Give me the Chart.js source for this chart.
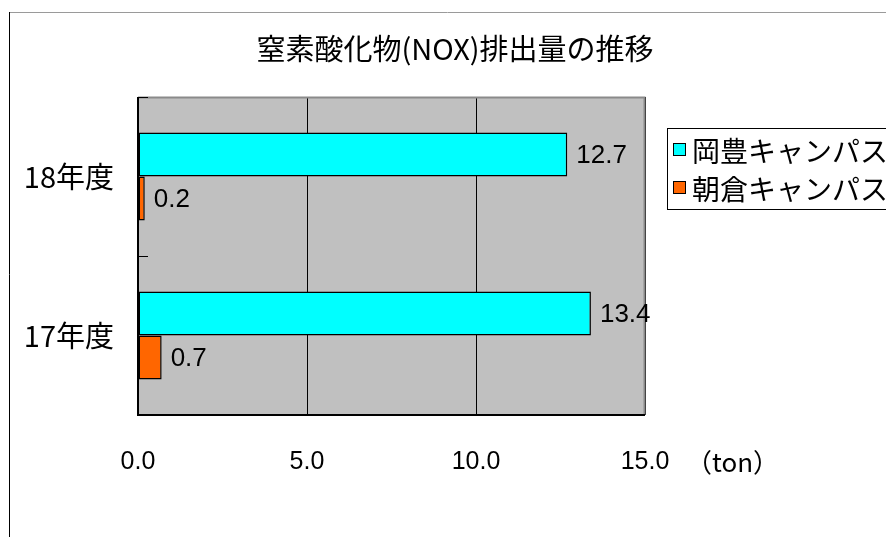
<!DOCTYPE html>
<html>
<head>
<meta charset="utf-8">
<title>窒素酸化物(NOX)排出量の推移</title>
<script src="https://cdn.jsdelivr.net/npm/chart.js@4/dist/chart.umd.min.js"></script>
<style>
  html, body { margin: 0; padding: 0; background: #fff; }
  #wrap { width: 886px; height: 537px; }
</style>
</head>
<body>
<div id="wrap"><canvas id="nox"></canvas></div>
<script>
// ---------------------------
// Data
// ---------------------------
const categories = ['18年度', '17年度'];
const seriesNames = ['岡豊キャンパス', '朝倉キャンパス'];
const okoValues = [12.7, 13.4];
const asakuraValues = [0.2, 0.7];
const xTicks = [0, 5, 10, 15];
const titleText = '窒素酸化物(NOX)排出量の推移';
const unitText = '（ton）';

const JP = '"Noto Sans CJK JP", "Noto Sans", sans-serif';
const NUM = '"Liberation Sans", Arial, sans-serif';

// frame, labels, legend and title drawn around the plot
const decorations = {
    id: 'decorations',
    beforeDraw(chart) {
        const { ctx, chartArea: a } = chart;
        ctx.save();
        ctx.fillStyle = '#fff';
        ctx.fillRect(0, 0, chart.width, chart.height);

        // outer chart border
        ctx.strokeStyle = '#9a9a9a';
        ctx.lineWidth = 1;
        ctx.beginPath();
        ctx.moveTo(9, 12.5);
        ctx.lineTo(chart.width, 12.5);
        ctx.stroke();
        ctx.strokeStyle = '#000';
        ctx.beginPath();
        ctx.moveTo(9.5, 12);
        ctx.lineTo(9.5, chart.height);
        ctx.stroke();

        // plot background
        ctx.fillStyle = '#c0c0c0';
        ctx.fillRect(a.left, a.top, a.right - a.left, a.bottom - a.top);
        ctx.restore();
    },
    afterDatasetsDraw(chart) {
        const { ctx, chartArea: a } = chart;
        const yScale = chart.scales.y;
        ctx.save();

        // plot frame: grey top/right, black left/bottom
        ctx.strokeStyle = '#8a8a8a';
        ctx.lineWidth = 2;
        ctx.beginPath();
        ctx.moveTo(a.left, a.top + 0.5);
        ctx.lineTo(a.right - 0.5, a.top + 0.5);
        ctx.lineTo(a.right - 0.5, a.bottom);
        ctx.stroke();
        ctx.strokeStyle = '#000';
        ctx.lineWidth = 2;
        ctx.beginPath();
        ctx.moveTo(a.left, a.top);
        ctx.lineTo(a.left, a.bottom);
        ctx.lineTo(a.right, a.bottom);
        ctx.stroke();

        // inward tick marks on the category axis
        ctx.lineWidth = 1;
        const half = (yScale.getPixelForValue(1) - yScale.getPixelForValue(0)) / 2;
        const marks = [yScale.getPixelForValue(0) - half];
        categories.forEach((c, i) => marks.push(yScale.getPixelForValue(i) + half));
        marks.forEach(y => {
            const py = Math.round(y) + 0.5;
            ctx.beginPath();
            ctx.moveTo(a.left, py);
            ctx.lineTo(a.left + 10, py);
            ctx.stroke();
        });

        // value labels next to bar ends
        ctx.fillStyle = '#000';
        ctx.font = '26px ' + NUM;
        ctx.textAlign = 'left';
        ctx.textBaseline = 'middle';
        chart.data.datasets.forEach((ds, di) => {
            chart.getDatasetMeta(di).data.forEach((bar, i) => {
                ctx.fillText(ds.data[i].toFixed(1), bar.x + 9, bar.y + 1);
            });
        });

        // title
        ctx.font = '29px ' + JP;
        ctx.textAlign = 'center';
        ctx.fillText(titleText, 455, 49);

        // unit beside the value axis
        ctx.font = '26px ' + JP;
        ctx.textAlign = 'left';
        ctx.fillText(unitText, 686, 462);

        // legend
        ctx.strokeStyle = '#000';
        ctx.lineWidth = 1;
        ctx.strokeRect(667.5, 128.5, 300, 81);
        ctx.font = '28px ' + JP;
        chart.data.datasets.forEach((ds, di) => {
            const cy = 150 + di * 38;
            ctx.fillStyle = ds.backgroundColor;
            ctx.fillRect(673, cy - 7, 13, 13);
            ctx.strokeRect(673.5, cy - 6.5, 12, 12);
            ctx.fillStyle = '#000';
            ctx.fillText(ds.label, 692, cy + 1);
        });
        ctx.restore();
    }
};

new Chart(document.getElementById('nox'), {
    type: 'bar',
    data: {
        labels: categories,
        datasets: [
            {
                label: seriesNames[0],
                data: okoValues,
                backgroundColor: '#00ffff',
                borderColor: '#000',
                borderWidth: 1.5,
                borderSkipped: false,
                categoryPercentage: 0.555,
                barPercentage: 1
            },
            {
                label: seriesNames[1],
                data: asakuraValues,
                backgroundColor: '#ff6600',
                borderColor: '#000',
                borderWidth: 1.5,
                borderSkipped: false,
                categoryPercentage: 0.555,
                barPercentage: 1
            }
        ]
    },
    options: {
        indexAxis: 'y',
        responsive: true,
        maintainAspectRatio: false,
        animation: false,
        layout: { padding: { top: 97, right: 241, left: 0, bottom: 0 } },
        plugins: {
            legend: { display: false },
            title: { display: false },
            tooltip: { enabled: false }
        },
        scales: {
            x: {
                min: xTicks[0],
                max: xTicks[xTicks.length - 1],
                afterBuildTicks: scale => {
                    scale.ticks = xTicks.map(v => ({ value: v }));
                },
                afterFit: scale => { scale.height = 122; },
                ticks: {
                    color: '#000',
                    font: { family: NUM, size: 25 },
                    padding: 32,
                    maxRotation: 0,
                    callback: v => Number(v).toFixed(1)
                },
                grid: { color: '#000', lineWidth: 1, drawTicks: false },
                border: { display: false }
            },
            y: {
                afterFit: scale => { scale.width = 138; },
                ticks: {
                    color: '#000',
                    font: { family: JP, size: 29 },
                    padding: 24
                },
                grid: { display: false, drawTicks: false },
                border: { display: false }
            }
        }
    },
    plugins: [decorations]
});
</script>
</body>
</html>
